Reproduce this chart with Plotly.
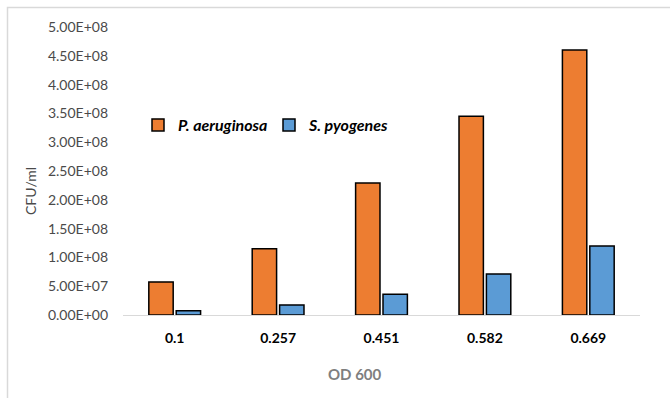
import plotly.graph_objects as go

categories = ["0.1", "0.257", "0.451", "0.582", "0.669"]
p_aeruginosa = [5.75e7, 1.15e8, 2.29e8, 3.45e8, 4.6e8]
s_pyogenes = [7.5e6, 1.75e7, 3.6e7, 7.1e7, 1.2e8]
y_ticks = [i * 5e7 for i in range(11)]
y_ticktext = [f"{v:.2E}" for v in y_ticks]

FONT = "Lato"
W, H = 670, 398
L, R, T, B = 123, 30, 27, 83
pw, ph = W - L - R, H - T - B

def px_x(p):
    return (p - L) / pw

def px_y(p):
    return (H - B - p) / ph

fig = go.Figure()
fig.add_trace(go.Bar(name="<i>P. aeruginosa</i>", x=categories, y=p_aeruginosa,
                     marker=dict(color="#ED7D31", line=dict(color="#000000", width=1.5))))
fig.add_trace(go.Bar(name="<i>S. pyogenes</i>", x=categories, y=s_pyogenes,
                     marker=dict(color="#5B9BD5", line=dict(color="#000000", width=1.5))))

fig.update_layout(
    width=W, height=H,
    margin=dict(l=L, r=R, t=T, b=B),
    paper_bgcolor="white", plot_bgcolor="white",
    barmode="group", bargap=0.47, bargroupgap=0.11,
    font=dict(family=FONT, size=12, color="#595959"),
    legend=dict(orientation="h", x=px_x(138), y=px_y(125), xanchor="left", yanchor="middle",
                font=dict(family=FONT, size=16, color="#000000", weight="bold"),
                bgcolor="rgba(0,0,0,0)", itemwidth=30,
                entrywidth=86, entrywidthmode="pixels"),
    xaxis=dict(showline=True, linecolor="#D9D9D9", linewidth=1, showgrid=False,
               tickfont=dict(family=FONT, size=14, color="#000000", weight="bold"),
               ticklabelstandoff=10, ticks=""),
    yaxis=dict(range=[0, 5e8], tickvals=y_ticks, ticktext=y_ticktext, showgrid=False,
               showline=False, zeroline=False,
               tickfont=dict(family=FONT, size=14, color="#4A4A4A"),
               ticklabelstandoff=14, ticks=""),
    annotations=[
        dict(text="CFU/ml", x=px_x(30), y=px_y(191), xref="paper", yref="paper",
             xanchor="center", yanchor="middle",
             showarrow=False, textangle=-90, font=dict(family=FONT, size=14, color="#4A4A4A")),
        dict(text="<b>OD 600</b>", x=px_x(355), y=px_y(374), xref="paper", yref="paper",
             xanchor="center", yanchor="middle",
             showarrow=False, font=dict(family=FONT, size=15, color="#7F7F7F")),
    ],
    shapes=[
        dict(type="rect", xref="paper", yref="paper",
             x0=px_x(7.5), x1=px_x(700), y0=px_y(420), y1=px_y(7.5),
             line=dict(color="#D9D9D9", width=1.5), fillcolor="rgba(0,0,0,0)", layer="above"),
    ],
)

fig.write_html("out.html", config={"displayModeBar": False},
               post_script="document.body.style.margin='0';document.body.style.overflow='hidden';")
